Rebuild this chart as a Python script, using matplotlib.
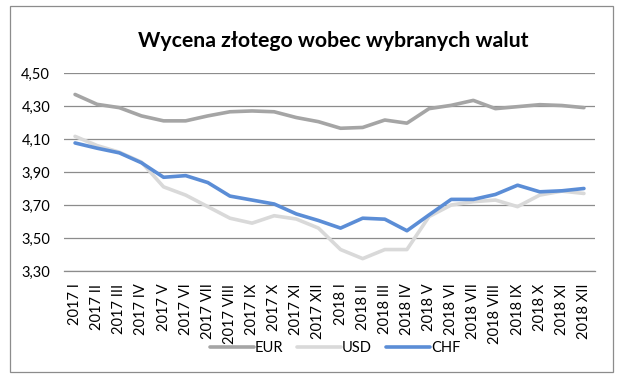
import matplotlib
matplotlib.use("Agg")
import matplotlib.pyplot as plt
from matplotlib.patches import Rectangle
from matplotlib.ticker import FuncFormatter

plt.rcParams['font.family'] = ['Lato', 'DejaVu Sans']

months = ["I", "II", "III", "IV", "V", "VI", "VII", "VIII", "IX", "X", "XI", "XII"]
labels = ["2017 " + m for m in months] + ["2018 " + m for m in months]

eur = [4.37, 4.31, 4.29, 4.24, 4.21, 4.21, 4.24, 4.265, 4.27, 4.265, 4.23, 4.205,
       4.165, 4.17, 4.215, 4.196, 4.284, 4.304, 4.334, 4.284, 4.296, 4.308, 4.303, 4.29]
usd = [4.116, 4.06, 4.02, 3.96, 3.81, 3.76, 3.69, 3.62, 3.59, 3.635, 3.615, 3.56,
       3.43, 3.375, 3.43, 3.43, 3.63, 3.70, 3.72, 3.73, 3.69, 3.76, 3.784, 3.77]
chf = [4.076, 4.044, 4.016, 3.956, 3.868, 3.878, 3.836, 3.754, 3.73, 3.706, 3.646, 3.606,
       3.56, 3.62, 3.614, 3.544, 3.64, 3.734, 3.734, 3.764, 3.82, 3.78, 3.786, 3.80]

fig = plt.figure(figsize=(6.25, 3.81), dpi=100)
ax = fig.add_axes([64 / 625, 1 - 271 / 381, 531 / 625, 198 / 381])

x = list(range(len(labels)))
ax.plot(x, eur, color="#A5A5A5", lw=2.6, label="EUR", solid_capstyle="round")
ax.plot(x, usd, color="#D9D9D9", lw=2.6, label="USD", solid_capstyle="round")
ax.plot(x, chf, color="#5B8DD6", lw=2.6, label="CHF", solid_capstyle="round")

ax.set_xlim(-0.5, len(labels) - 0.5)
ax.set_ylim(3.3, 4.5)
ax.set_yticks([3.3, 3.5, 3.7, 3.9, 4.1, 4.3, 4.5])
ax.yaxis.set_major_formatter(FuncFormatter(lambda v, p: f"{v:.2f}".replace(".", ",")))
ax.grid(axis="y", color="#8C8C8C", lw=0.9)
ax.set_axisbelow(True)
for s in ["top", "right", "left"]:
    ax.spines[s].set_visible(False)
ax.spines["bottom"].set_color("#8C8C8C")
ax.spines["bottom"].set_linewidth(0.9)
ax.set_xticks(x)
ax.set_xticklabels(labels, rotation=90, fontsize=10.5, va="top")
ax.tick_params(axis="x", length=0, pad=9)
ax.tick_params(axis="y", length=0, pad=10, labelsize=10.5)

fig.text(0.533, 0.893, "Wycena złotego wobec wybranych walut", ha="center", va="center",
         fontsize=15.3, fontweight="bold")

ax.legend(loc="center", bbox_to_anchor=(335 / 625, 1 - 348 / 381), bbox_transform=fig.transFigure,
          ncol=3, frameon=False, fontsize=10.5, handlelength=3.0, handletextpad=0.05,
          columnspacing=1.0)

fig.patches.append(Rectangle((10 / 625, 1 - 372 / 381), 603 / 625, 366 / 381,
                             transform=fig.transFigure, fill=False, edgecolor="#8C8C8C", lw=0.9))

fig.savefig("out.png", dpi=100)
